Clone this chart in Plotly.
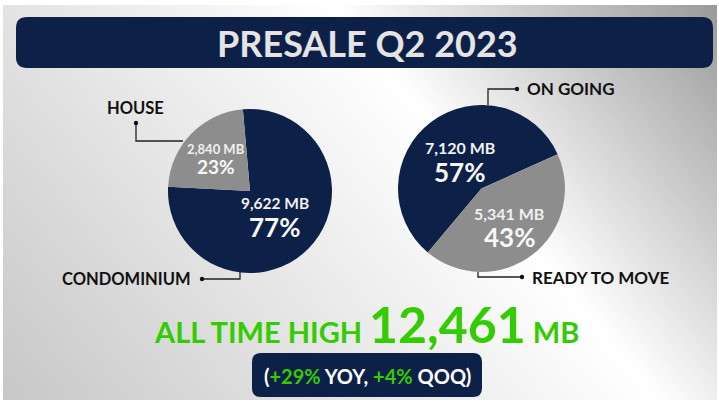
import math
import plotly.graph_objects as go

# ---------------- data ----------------
title_text = "PRESALE Q2 2023"
type_labels = ["CONDOMINIUM", "HOUSE"]
type_values = [9622, 2840]
status_labels = ["ON GOING", "READY TO MOVE"]
status_values = [7120, 5341]
total_value = 12461
yoy_change = "+29%"
qoq_change = "+4%"

# ---------------- style ----------------
W, H = 719, 403
NAVY = "#0c2048"
GREY = "#8d8d8d"
GREEN = "#33cc00"
FONT = "Lato"


def px(x):
    return x / W


def py(y):
    return 1 - y / H


shapes = []
annotations = []

# background gradient (diagonal bright band)
ux, uy = 330 / 520.9, 403 / 520.9
nx, ny = uy, -ux
bx, by = 330.0, 0.0


def shade(d):
    if d >= 0:
        v = 255 - 0.34 * d
    else:
        v = 255 - 0.11 * (-d)
    v = max(150, min(255, v))
    return int(round(v))


step = 4
d = -640
while d < 340:
    d0, d1 = d, d + step * 2.5  # overlapping strips hide seams
    pts = []
    for dd, t in [(d0, -900), (d0, 900), (d1, 900), (d1, -900)]:
        x = bx + dd * nx + t * ux
        y = by + dd * ny + t * uy
        pts.append((px(x), py(y)))
    path = "M " + " L ".join(f"{a:.5f},{b:.5f}" for a, b in pts) + " Z"
    c = shade(d + step / 2)
    shapes.append(dict(type="path", path=path, xref="paper", yref="paper",
                       fillcolor=f"rgb({c},{c},{c})", line=dict(width=0), layer="below"))
    d += step

# white frame
for (x0, y0, x1, y1) in [(0, 0, W, 5), (0, 400, W, H), (0, 0, 3, H), (717, 0, W, H)]:
    shapes.append(dict(type="rect", xref="paper", yref="paper", x0=px(x0), x1=px(x1),
                       y0=py(y1), y1=py(y0), fillcolor="white", line=dict(width=0), layer="below"))


def rounded(x0, y0, x1, y1, r, color):
    p = (f"M {px(x0 + r)},{py(y0)} L {px(x1 - r)},{py(y0)} Q {px(x1)},{py(y0)} {px(x1)},{py(y0 + r)} "
         f"L {px(x1)},{py(y1 - r)} Q {px(x1)},{py(y1)} {px(x1 - r)},{py(y1)} "
         f"L {px(x0 + r)},{py(y1)} Q {px(x0)},{py(y1)} {px(x0)},{py(y1 - r)} "
         f"L {px(x0)},{py(y0 + r)} Q {px(x0)},{py(y0)} {px(x0 + r)},{py(y0)} Z")
    shapes.append(dict(type="path", path=p, xref="paper", yref="paper",
                       fillcolor=color, line=dict(width=0), layer="below"))


# title banner + pill
rounded(16, 17, 713, 68, 11, NAVY)
rounded(252, 353, 482, 397, 9, NAVY)


def note(x, y, text, size, color, xanchor="center", family=FONT):
    annotations.append(dict(x=px(x), y=py(y), xref="paper", yref="paper", text=text,
                            showarrow=False, xanchor=xanchor, yanchor="middle",
                            font=dict(family=family, size=size, color=color)))


note(367, 43, f"<b>{title_text}</b>", 36, "#e4e4e4")

# pies
pies = [
    dict(labels=type_labels, values=type_values, colors=[NAVY, GREY], cx=250, cy=191, r=82,
         rot=-5, fracs=[0.42, 0.58], mbsize=[15.5, 13], pctsize=[26, 19], gap=[24, 17]),
    dict(labels=status_labels, values=status_values, colors=[NAVY, GREY], cx=481.5, cy=188.5, r=83.5,
         rot=220, fracs=[0.43, 0.55], mbsize=[16, 16], pctsize=[26, 26], gap=[24, 24]),
]

fig = go.Figure()
for p in pies:
    fig.add_trace(go.Pie(
        labels=p["labels"], values=p["values"], sort=False, direction="clockwise",
        rotation=p["rot"], marker=dict(colors=p["colors"], line=dict(width=0)),
        textinfo="none", hoverinfo="label+value+percent", showlegend=False,
        domain=dict(x=[px(p["cx"] - p["r"]), px(p["cx"] + p["r"])],
                    y=[py(p["cy"] + p["r"]), py(p["cy"] - p["r"])]),
    ))
    tot = sum(p["values"])
    start = p["rot"]
    for i, v in enumerate(p["values"]):
        span = 360 * v / tot
        mid = math.radians(start + span / 2)
        start += span
        lx = p["cx"] + p["fracs"][i] * p["r"] * math.sin(mid)
        ly = p["cy"] - p["fracs"][i] * p["r"] * math.cos(mid)
        pct = round(100 * v / tot)
        g = p["gap"][i] / 2
        note(lx, ly - g, f"<b>{v:,} MB</b>", p["mbsize"][i], "#f0f0f0")
        note(lx, ly + g, f"<b>{pct}%</b>", p["pctsize"][i], "#f8f8f8")


# connectors
def polyline(points):
    path = "M " + " L ".join(f"{px(a):.5f},{py(b):.5f}" for a, b in points)
    shapes.append(dict(type="path", path=path, xref="paper", yref="paper",
                       line=dict(color="#222222", width=1.3)))


def dot(x, y, r=2.2):
    shapes.append(dict(type="circle", xref="paper", yref="paper", x0=px(x - r), x1=px(x + r),
                       y0=py(y + r), y1=py(y - r), fillcolor="#111111", line=dict(width=0)))


polyline([(136, 123), (136, 141), (183, 141)]); dot(136, 123)
polyline([(202, 279), (240, 279), (240, 272)]); dot(202, 279)
polyline([(488, 105), (488, 89), (517, 89)]); dot(517, 89)
polyline([(478, 272), (478, 277), (522, 277)]); dot(522, 277)

LAB = 16.5
note(135, 108, f"<b>{type_labels[1]}</b>", LAB, "#111111")
note(193, 279, f"<b>{type_labels[0]}</b>", LAB, "#111111", xanchor="right")
note(525, 89, f"<b>{status_labels[0]}</b>", 17, "#111111", xanchor="left")
note(530, 277, f"<b>{status_labels[1]}</b>", 17, "#111111", xanchor="left")

# bottom headline
note(366, 324, f"<b>ALL TIME HIGH <span style='font-size:50px'>{total_value:,}</span> MB</b>", 29, GREEN)
note(367, 376, (f"<b>(<span style='color:{GREEN}'>{yoy_change}</span> YOY, "
                f"<span style='color:{GREEN}'>{qoq_change}</span> QOQ)</b>"), 20, "white")

fig.update_layout(width=W, height=H, margin=dict(l=0, r=0, t=0, b=0),
                  paper_bgcolor="white", plot_bgcolor="white",
                  shapes=shapes, annotations=annotations, showlegend=False)

fig.write_html("out.html", config=dict(displayModeBar=False),
               post_script="document.body.style.margin='0';")
